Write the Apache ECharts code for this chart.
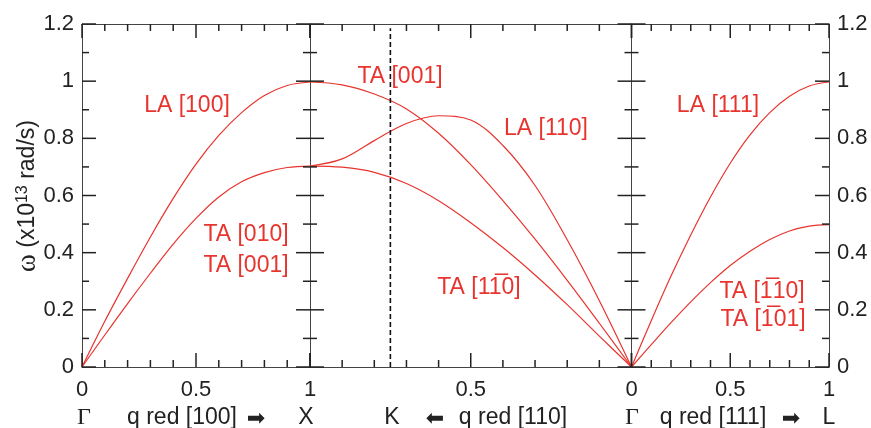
<!DOCTYPE html>
<html>
<head>
<meta charset="utf-8">
<script src="https://cdn.jsdelivr.net/npm/echarts@6/dist/echarts.min.js"></script>
<style>
  html, body { margin: 0; padding: 0; background: #fff; }
  #main { width: 871px; height: 428px; }
</style>
</head>
<body>
<div id="main"></div>
<script>
// q red along [100] and [111] (0 -> 1)
const qUp = [0, 0.1, 0.2, 0.3, 0.4, 0.5, 0.6, 0.7, 0.8, 0.9, 1]
// q red along [110], read from X (1) back to Gamma (0)
const qKX = [1, 0.9, 0.8, 0.7, 0.6, 0.5, 0.4, 0.3, 0.2, 0.1, 0]
const kPos = 0.75

// Gamma -> X
const la100 = [0, 0.16, 0.31, 0.455, 0.59, 0.71, 0.81, 0.89, 0.95, 0.985, 0.997]
const ta100 = [0, 0.112, 0.222, 0.328, 0.43, 0.52, 0.595, 0.648, 0.68, 0.698, 0.703]
// X -> K -> Gamma
const ta001 = [0.997, 0.987, 0.955, 0.903, 0.818, 0.708, 0.582, 0.447, 0.303, 0.153, 0]
const la110 = [0.703, 0.728, 0.792, 0.852, 0.879, 0.864, 0.775, 0.635, 0.445, 0.232, 0]
const ta1m10 = [0.703, 0.699, 0.681, 0.642, 0.582, 0.505, 0.418, 0.322, 0.218, 0.108, 0]
// Gamma -> L
const la111 = [0, 0.162, 0.318, 0.462, 0.595, 0.713, 0.812, 0.89, 0.947, 0.983, 0.997]
const ta111 = [0, 0.078, 0.155, 0.228, 0.295, 0.355, 0.405, 0.446, 0.476, 0.493, 0.498]

// tick positions (inner ticks on every panel edge)
const yMajorTicks = [0, 0.2, 0.4, 0.6, 0.8, 1, 1.2]
const yMinorTicks = [0.1, 0.3, 0.5, 0.7, 0.9, 1.1]
const xMajorTicks = [0, 0.5, 1]
const xMinorTicks = [0.1, 0.2, 0.3, 0.4, 0.6, 0.7, 0.8, 0.9]

const pointNames = ['Γ', 'X', 'K', 'Γ', 'L']
const dirNames = ['q red [100]', 'q red [110]', 'q red [111]']
const yTitle = '{w|ω} (x10{s|13} rad/s)'

const RED = '#e8342e'
const AXIS = '#444'
const TICK = '#222'
const FONT = 'Liberation Sans'

const panels = [
  { left: 82, width: 228 },
  { left: 310, width: 321.5 },
  { left: 631.5, width: 197.5 }
]
const gridTop = 24, gridHeight = 343

function pairs(xs, ys) {
  return xs.map((x, i) => [x, ys[i]])
}

const xAxes = [], yAxes = []
panels.forEach((p, g) => {
  ;['bottom', 'top'].forEach(pos => {
    xAxes.push({
      type: 'value', gridIndex: g, position: pos, min: 0, max: 1, interval: 0.5,
      inverse: g === 1,
      axisLine: { show: true, onZero: false, lineStyle: { color: AXIS } },
      axisTick: { show: false },
      splitLine: { show: false },
      axisLabel: {
        show: pos === 'bottom', fontSize: 22, fontFamily: FONT, color: '#222', margin: 12,
        formatter: v => (g === 1 && v !== 0.5) ? '' : String(v)
      }
    })
  })
  ;['left', 'right'].forEach(pos => {
    const lab = (g === 0 && pos === 'left') || (g === 2 && pos === 'right')
    yAxes.push({
      type: 'value', gridIndex: g, position: pos, min: 0, max: 1.2, interval: 0.2,
      axisLine: { show: true, onZero: false, lineStyle: { color: AXIS } },
      axisTick: { show: false },
      splitLine: { show: false },
      axisLabel: { show: lab, fontSize: 22, fontFamily: FONT, color: '#222', margin: 8 }
    })
  })
})

function tickLine(x1, y1, x2, y2) {
  return { type: 'line', shape: { x1: x1, y1: y1, x2: x2, y2: y2 }, style: { stroke: TICK, lineWidth: 1.5 } }
}

// inner tick marks, placed through the panel's own scales
function tickSeries(g) {
  return {
    type: 'custom', xAxisIndex: 2 * g, yAxisIndex: 2 * g, data: [[0, 0]], silent: true, z: 5,
    renderItem: (params, api) => {
      const a = api.coord([0, 0]), b = api.coord([1, 1.2])
      const xl = Math.min(a[0], b[0]), xr = Math.max(a[0], b[0])
      const yb = Math.max(a[1], b[1]), yt = Math.min(a[1], b[1])
      const children = []
      const addY = (v, len) => {
        const py = api.coord([0, v])[1]
        children.push(tickLine(xl, py, xl + len, py), tickLine(xr, py, xr - len, py))
      }
      const addX = (v, len) => {
        const px = api.coord([v, 0])[0]
        children.push(tickLine(px, yb, px, yb - len), tickLine(px, yt, px, yt + len))
      }
      yMajorTicks.forEach(v => addY(v, 14))
      yMinorTicks.forEach(v => addY(v, 7))
      xMajorTicks.forEach(v => addX(v, 14))
      xMinorTicks.forEach(v => addX(v, 7))
      return { type: 'group', children: children }
    }
  }
}

function curve(g, xs, ys) {
  return {
    type: 'line', xAxisIndex: 2 * g, yAxisIndex: 2 * g, data: pairs(xs, ys),
    smooth: 0.35, symbol: 'none', lineStyle: { color: RED, width: 1.2 }
  }
}

const series = [
  tickSeries(0), tickSeries(1), tickSeries(2),
  curve(0, qUp, la100), curve(0, qUp, ta100),
  curve(1, qKX, ta001), curve(1, qKX, la110), curve(1, qKX, ta1m10),
  curve(2, qUp, la111), curve(2, qUp, ta111),
  {
    type: 'line', xAxisIndex: 2, yAxisIndex: 2, data: [[kPos, 0], [kPos, 1.185]],
    symbol: 'none', lineStyle: { color: '#111', width: 1.6, type: [5, 3] }
  }
]

function redText(text, x, y) {
  return {
    type: 'text', x: x, y: y,
    style: { text: text, fill: RED, font: '23px "' + FONT + '"', textAlign: 'center', textVerticalAlign: 'middle' }
  }
}
function blackText(text, x, y, fam, size) {
  return {
    type: 'text', x: x, y: y,
    style: { text: text, fill: '#222', font: (size || 23) + 'px "' + (fam || FONT) + '"', textAlign: 'center', textVerticalAlign: 'middle' }
  }
}

const rowY = 418
const graphic = [
  {
    type: 'text', x: 28, y: 196, rotation: Math.PI / 2,
    style: {
      text: yTitle, fill: '#222', font: '23px "' + FONT + '"', textAlign: 'center', textVerticalAlign: 'middle',
      rich: {
        w: { fontSize: 27, fontFamily: 'Liberation Serif', fill: '#222' },
        s: { fontSize: 16, fontFamily: FONT, fill: '#222', verticalAlign: 'top', lineHeight: 16 }
      }
    }
  },
  redText('LA [100]', 187, 106),
  redText('TA [010]', 246, 235),
  redText('TA [001]', 246, 266),
  redText('TA [001]', 400, 77),
  redText('LA [110]', 546, 129),
  redText('TA [11\u03050]', 479, 288),
  redText('LA [111]', 718, 106),
  redText('TA [1\u030510]', 762, 292),
  redText('TA [1\u030501]', 763, 320),
  blackText(pointNames[0], 84, rowY, 'Liberation Serif', 24),
  blackText(dirNames[0], 182, rowY),
  blackText('➡', 256, rowY + 1, 'DejaVu Sans', 22),
  blackText(pointNames[1], 306, rowY),
  blackText(pointNames[2], 392, rowY),
  blackText('⬅', 435, rowY + 1, 'DejaVu Sans', 22),
  blackText(dirNames[1], 513, rowY),
  blackText(pointNames[3], 632, rowY, 'Liberation Serif', 24),
  blackText(dirNames[2], 713, rowY),
  blackText('➡', 791, rowY + 1, 'DejaVu Sans', 22),
  blackText(pointNames[4], 829, rowY)
]

const chart = echarts.init(document.getElementById('main'))
chart.setOption({
  animation: false,
  grid: panels.map(p => ({ left: p.left, width: p.width, top: gridTop, height: gridHeight })),
  xAxis: xAxes,
  yAxis: yAxes,
  series: series,
  graphic: graphic
})
</script>
</body>
</html>
